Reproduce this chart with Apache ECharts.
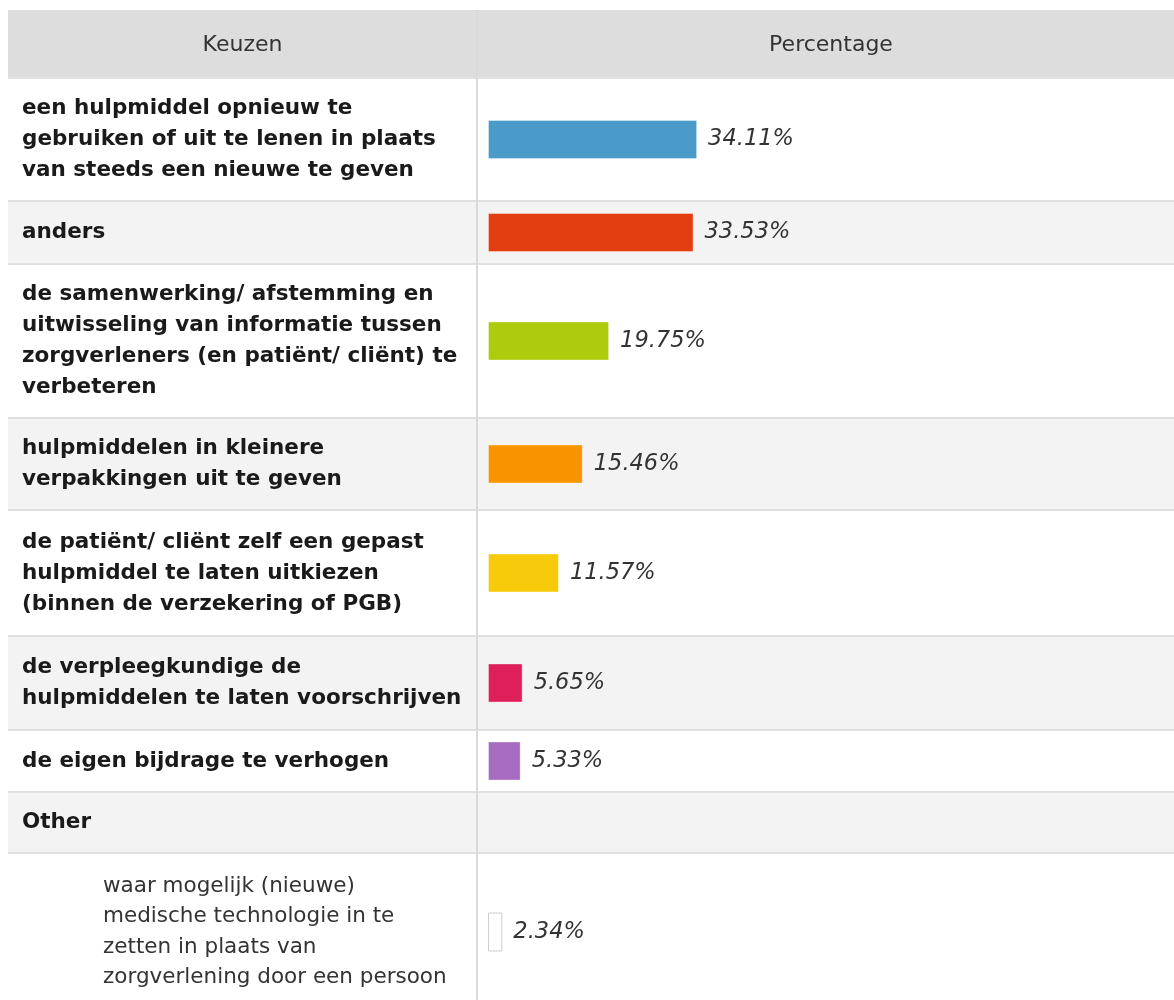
<!DOCTYPE html>
<html>
<head>
<meta charset="utf-8">
<script src="https://cdn.jsdelivr.net/npm/echarts@6/dist/echarts.min.js"></script>
<style>
html,body{margin:0;padding:0;background:#fff;}
#chart{width:1174px;height:1000px;}
</style>
</head>
<body>
<div id="chart"></div>
<script>
// ---- data ----
var headerLabels = ['Keuzen', 'Percentage'];
var choices = [
  'een hulpmiddel opnieuw te\ngebruiken of uit te lenen in plaats\nvan steeds een nieuwe te geven',
  'anders',
  'de samenwerking/ afstemming en\nuitwisseling van informatie tussen\nzorgverleners (en patiënt/ cliënt) te\nverbeteren',
  'hulpmiddelen in kleinere\nverpakkingen uit te geven',
  'de patiënt/ cliënt zelf een gepast\nhulpmiddel te laten uitkiezen\n(binnen de verzekering of PGB)',
  'de verpleegkundige de\nhulpmiddelen te laten voorschrijven',
  'de eigen bijdrage te verhogen',
  'Other',
  'waar mogelijk (nieuwe)\nmedische technologie in te\nzetten in plaats van\nzorgverlening door een persoon'
];
var percentages = [34.11, 33.53, 19.75, 15.46, 11.57, 5.65, 5.33, null, 2.34];
var isSubOption = [false, false, false, false, false, false, false, false, true];

// ---- layout / style ----
var barColors = ['#4a9bca', '#e33e12', '#aecb0e', '#f79400', '#f7cb0c', '#de1f5a', '#a66cc0', '#ffffff', '#ffffff'];
var rowTops = [78, 201, 264, 418, 510, 636, 730, 792, 853, 1011];
var tableLeft = 8, tableRight = 1174, tableTop = 10, colDivider = 477;
var barLeft = 488, pxPerPercent = 6.13;

var chart = echarts.init(document.getElementById('chart'), null, {renderer: 'canvas'});

var grids = [], xAxes = [], yAxes = [], seriesList = [], graphics = [];

// table background
graphics.push({type: 'rect', z: -10, shape: {x: tableLeft, y: tableTop, width: tableRight - tableLeft, height: rowTops[0] - tableTop}, style: {fill: '#dddddd'}});
for (var i = 0; i < choices.length; i++) {
  var rt = rowTops[i], rb = rowTops[i + 1];
  graphics.push({type: 'rect', z: -10, shape: {x: tableLeft, y: rt, width: tableRight - tableLeft, height: rb - rt}, style: {fill: i % 2 === 0 ? '#ffffff' : '#f3f3f3'}});
  graphics.push({type: 'line', z: -9, shape: {x1: tableLeft, y1: rt, x2: tableRight, y2: rt}, style: {stroke: '#e0e0e0', lineWidth: 2}});
}
graphics.push({type: 'line', z: -8, shape: {x1: colDivider, y1: tableTop, x2: colDivider, y2: 1000}, style: {stroke: '#dadada', lineWidth: 2}});
graphics.push({type: 'text', z: 5, style: {text: headerLabels[0], x: (tableLeft + colDivider) / 2, y: (tableTop + rowTops[0]) / 2 + 1, align: 'center', verticalAlign: 'middle', font: '22px "DejaVu Sans"', fill: '#333'}});
graphics.push({type: 'text', z: 5, style: {text: headerLabels[1], x: 831, y: (tableTop + rowTops[0]) / 2 + 1, align: 'center', verticalAlign: 'middle', font: '22px "DejaVu Sans"', fill: '#333'}});

for (var k = 0; k < choices.length; k++) {
  var rowTop = rowTops[k], rowH = rowTops[k + 1] - rowTop;
  grids.push({left: barLeft, top: rowTop, width: 100 * pxPerPercent, height: rowH, containLabel: false, outerBoundsMode: 'none'});
  xAxes.push({type: 'value', gridIndex: k, min: 0, max: 100, show: false});
  var sub = isSubOption[k];
  yAxes.push({
    type: 'category', gridIndex: k, data: [choices[k]],
    axisLine: {show: false}, axisTick: {show: false}, splitLine: {show: false},
    axisLabel: {
      align: 'left', margin: sub ? barLeft - 103 : barLeft - 22,
      fontFamily: 'DejaVu Sans', fontSize: 21.5,
      fontWeight: sub ? 'normal' : 'bold',
      color: sub ? '#333' : '#1a1a1a', lineHeight: sub ? 30.5 : 31
    }
  });
  seriesList.push({
    type: 'bar', xAxisIndex: k, yAxisIndex: k, barWidth: 39, silent: true,
    data: [percentages[k] == null ? '-' : {
      value: percentages[k],
      itemStyle: {color: barColors[k], borderColor: sub ? '#cfcfcf' : 'rgba(255,255,255,0.35)', borderWidth: 1}
    }],
    label: {
      show: percentages[k] != null, position: 'right', distance: 11,
      fontFamily: 'DejaVu Sans', fontStyle: 'italic', fontSize: 22.5, color: '#333',
      formatter: function (p) { return Number(p.value).toFixed(2) + '%'; }
    }
  });
}

chart.setOption({
  backgroundColor: '#ffffff',
  animation: false,
  graphic: graphics,
  grid: grids,
  xAxis: xAxes,
  yAxis: yAxes,
  series: seriesList
});
</script>
</body>
</html>
